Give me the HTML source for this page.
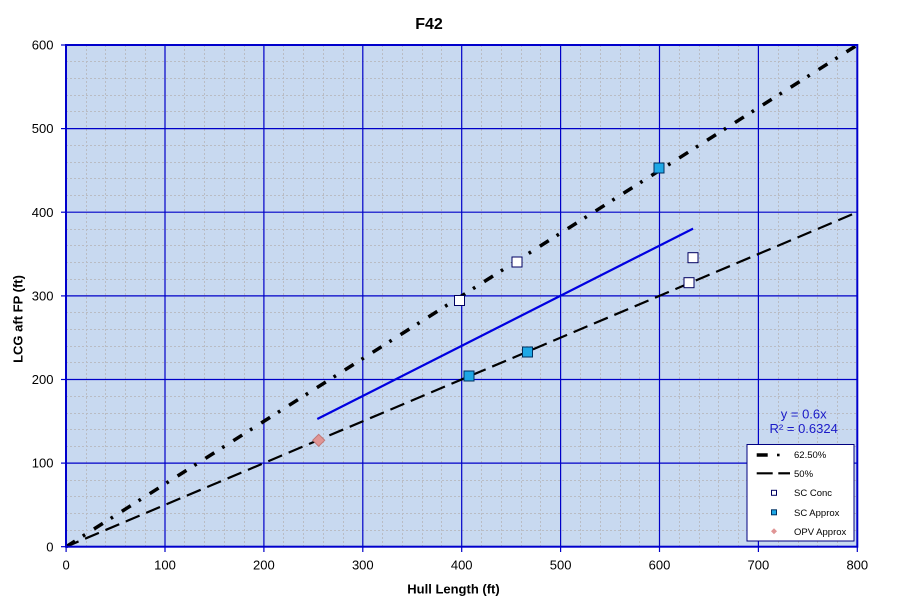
<!DOCTYPE html>
<html>
<head>
<meta charset="utf-8">
<style>
html,body{margin:0;padding:0;background:#ffffff;}
svg{display:block;}
text{font-family:"Liberation Sans",Arial,sans-serif;}
</style>
</head>
<body>
<svg width="901" height="613" viewBox="0 0 901 613" xmlns="http://www.w3.org/2000/svg">
<rect x="0" y="0" width="901" height="613" fill="#ffffff"/>
<rect x="66" y="45" width="791.3" height="501.7" fill="#C8D9F0"/>

<g stroke="#B9BCC4" stroke-width="1" stroke-dasharray="2 2" fill="none">
<line x1="86.5" y1="45" x2="86.5" y2="547"/>
<line x1="105.5" y1="45" x2="105.5" y2="547"/>
<line x1="125.5" y1="45" x2="125.5" y2="547"/>
<line x1="145.5" y1="45" x2="145.5" y2="547"/>
<line x1="184.5" y1="45" x2="184.5" y2="547"/>
<line x1="204.5" y1="45" x2="204.5" y2="547"/>
<line x1="224.5" y1="45" x2="224.5" y2="547"/>
<line x1="244.5" y1="45" x2="244.5" y2="547"/>
<line x1="283.5" y1="45" x2="283.5" y2="547"/>
<line x1="303.5" y1="45" x2="303.5" y2="547"/>
<line x1="323.5" y1="45" x2="323.5" y2="547"/>
<line x1="343.5" y1="45" x2="343.5" y2="547"/>
<line x1="382.5" y1="45" x2="382.5" y2="547"/>
<line x1="402.5" y1="45" x2="402.5" y2="547"/>
<line x1="422.5" y1="45" x2="422.5" y2="547"/>
<line x1="441.5" y1="45" x2="441.5" y2="547"/>
<line x1="481.5" y1="45" x2="481.5" y2="547"/>
<line x1="501.5" y1="45" x2="501.5" y2="547"/>
<line x1="521.5" y1="45" x2="521.5" y2="547"/>
<line x1="540.5" y1="45" x2="540.5" y2="547"/>
<line x1="580.5" y1="45" x2="580.5" y2="547"/>
<line x1="600.5" y1="45" x2="600.5" y2="547"/>
<line x1="620.5" y1="45" x2="620.5" y2="547"/>
<line x1="639.5" y1="45" x2="639.5" y2="547"/>
<line x1="679.5" y1="45" x2="679.5" y2="547"/>
<line x1="699.5" y1="45" x2="699.5" y2="547"/>
<line x1="718.5" y1="45" x2="718.5" y2="547"/>
<line x1="738.5" y1="45" x2="738.5" y2="547"/>
<line x1="778.5" y1="45" x2="778.5" y2="547"/>
<line x1="798.5" y1="45" x2="798.5" y2="547"/>
<line x1="817.5" y1="45" x2="817.5" y2="547"/>
<line x1="837.5" y1="45" x2="837.5" y2="547"/>
<line x1="66" y1="530.5" x2="857" y2="530.5"/>
<line x1="66" y1="513.5" x2="857" y2="513.5"/>
<line x1="66" y1="496.5" x2="857" y2="496.5"/>
<line x1="66" y1="480.5" x2="857" y2="480.5"/>
<line x1="66" y1="446.5" x2="857" y2="446.5"/>
<line x1="66" y1="429.5" x2="857" y2="429.5"/>
<line x1="66" y1="413.5" x2="857" y2="413.5"/>
<line x1="66" y1="396.5" x2="857" y2="396.5"/>
<line x1="66" y1="362.5" x2="857" y2="362.5"/>
<line x1="66" y1="346.5" x2="857" y2="346.5"/>
<line x1="66" y1="329.5" x2="857" y2="329.5"/>
<line x1="66" y1="312.5" x2="857" y2="312.5"/>
<line x1="66" y1="279.5" x2="857" y2="279.5"/>
<line x1="66" y1="262.5" x2="857" y2="262.5"/>
<line x1="66" y1="245.5" x2="857" y2="245.5"/>
<line x1="66" y1="229.5" x2="857" y2="229.5"/>
<line x1="66" y1="195.5" x2="857" y2="195.5"/>
<line x1="66" y1="178.5" x2="857" y2="178.5"/>
<line x1="66" y1="162.5" x2="857" y2="162.5"/>
<line x1="66" y1="145.5" x2="857" y2="145.5"/>
<line x1="66" y1="111.5" x2="857" y2="111.5"/>
<line x1="66" y1="95.5" x2="857" y2="95.5"/>
<line x1="66" y1="78.5" x2="857" y2="78.5"/>
<line x1="66" y1="61.5" x2="857" y2="61.5"/>
</g>

<g stroke="#0000C8" stroke-width="1.2" fill="none">
<line x1="165" y1="45" x2="165" y2="547"/>
<line x1="263.9" y1="45" x2="263.9" y2="547"/>
<line x1="362.8" y1="45" x2="362.8" y2="547"/>
<line x1="461.7" y1="45" x2="461.7" y2="547"/>
<line x1="560.6" y1="45" x2="560.6" y2="547"/>
<line x1="659.5" y1="45" x2="659.5" y2="547"/>
<line x1="758.4" y1="45" x2="758.4" y2="547"/>
<line x1="66" y1="463.1" x2="857" y2="463.1"/>
<line x1="66" y1="379.5" x2="857" y2="379.5"/>
<line x1="66" y1="295.9" x2="857" y2="295.9"/>
<line x1="66" y1="212.2" x2="857" y2="212.2"/>
<line x1="66" y1="128.6" x2="857" y2="128.6"/>
</g>

<g stroke="#0000C8" stroke-width="1.2">
<line x1="61" y1="546.7" x2="66" y2="546.7"/>
<line x1="61" y1="463.1" x2="66" y2="463.1"/>
<line x1="61" y1="379.5" x2="66" y2="379.5"/>
<line x1="61" y1="295.9" x2="66" y2="295.9"/>
<line x1="61" y1="212.2" x2="66" y2="212.2"/>
<line x1="61" y1="128.6" x2="66" y2="128.6"/>
<line x1="61" y1="45" x2="66" y2="45"/>
<line x1="66.1" y1="547" x2="66.1" y2="552"/>
<line x1="165" y1="547" x2="165" y2="552"/>
<line x1="263.9" y1="547" x2="263.9" y2="552"/>
<line x1="362.8" y1="547" x2="362.8" y2="552"/>
<line x1="461.7" y1="547" x2="461.7" y2="552"/>
<line x1="560.6" y1="547" x2="560.6" y2="552"/>
<line x1="659.5" y1="547" x2="659.5" y2="552"/>
<line x1="758.4" y1="547" x2="758.4" y2="552"/>
<line x1="857.3" y1="547" x2="857.3" y2="552"/>
</g>

<line x1="66.1" y1="546.7" x2="857.3" y2="212.2" stroke="#000000" stroke-width="2.2" stroke-dasharray="15 7.1" stroke-dashoffset="1.5"/>
<line x1="66.1" y1="546.7" x2="857.3" y2="45" stroke="#000000" stroke-width="3.5" stroke-dasharray="10.5 9.3 2.7 10.5"/>
<line x1="317.3" y1="419" x2="693.1" y2="228.6" stroke="#0000E0" stroke-width="2.2"/>

<g fill="#ffffff" stroke="#000060" stroke-width="1">
<rect x="454.5" y="295.5" width="10" height="10"/>
<rect x="512" y="257" width="10" height="10"/>
<rect x="688" y="252.7" width="10" height="10"/>
<rect x="684" y="277.7" width="10" height="10"/>
</g>
<g fill="#1EA8E6" stroke="#003060" stroke-width="1">
<rect x="654" y="163" width="10" height="10"/>
<rect x="464" y="371" width="10" height="10"/>
<rect x="522.5" y="347" width="10" height="10"/>
</g>
<polygon points="318.7,434.3 324.7,440.3 318.7,446.3 312.7,440.3" fill="#E09595" stroke="#C07878" stroke-width="1"/>

<rect x="66" y="45" width="791.3" height="501.7" fill="none" stroke="#0000CC" stroke-width="2"/>

<text x="803.7" y="418.5" font-size="13" fill="#1A1AC8" text-anchor="middle">y = 0.6x</text>
<text x="803.7" y="433" font-size="13" fill="#1A1AC8" text-anchor="middle">R² = 0.6324</text>

<rect x="747" y="444.5" width="107" height="96.5" fill="#ffffff" stroke="#000080" stroke-width="1"/>
<line x1="756.7" y1="455" x2="767.7" y2="455" stroke="#000" stroke-width="3.5"/>
<rect x="777" y="453.7" width="2.6" height="2.6" fill="#000"/>
<line x1="756.7" y1="473.3" x2="772.7" y2="473.3" stroke="#000" stroke-width="2.2"/>
<line x1="778.3" y1="473.3" x2="790" y2="473.3" stroke="#000" stroke-width="2.2"/>
<rect x="771.5" y="490.3" width="5" height="5" fill="#ffffff" stroke="#000060" stroke-width="1"/>
<rect x="771.5" y="509.8" width="5" height="5" fill="#1EA8E6" stroke="#003060" stroke-width="1"/>
<polygon points="774,528.3 777,531.3 774,534.3 771,531.3" fill="#E09595"/>
<g font-size="9.5" fill="#000">
<text x="794" y="458">62.50%</text>
<text x="794" y="476.8">50%</text>
<text x="794" y="496.2">SC Conc</text>
<text x="794" y="515.8">SC Approx</text>
<text x="794" y="535">OPV Approx</text>
</g>

<g font-size="13" fill="#000" text-anchor="end">
<text x="53.5" y="551.3">0</text>
<text x="53.5" y="467.7">100</text>
<text x="53.5" y="384.1">200</text>
<text x="53.5" y="300.5">300</text>
<text x="53.5" y="216.8">400</text>
<text x="53.5" y="133.2">500</text>
<text x="53.5" y="49.6">600</text>
</g>
<g font-size="13" fill="#000" text-anchor="middle">
<text x="66.1" y="569.3">0</text>
<text x="165" y="569.3">100</text>
<text x="263.9" y="569.3">200</text>
<text x="362.8" y="569.3">300</text>
<text x="461.7" y="569.3">400</text>
<text x="560.6" y="569.3">500</text>
<text x="659.5" y="569.3">600</text>
<text x="758.4" y="569.3">700</text>
<text x="857.3" y="569.3">800</text>
</g>

<text x="429" y="29" font-size="16" font-weight="bold" fill="#000" text-anchor="middle">F42</text>
<text x="453.5" y="593.5" font-size="13" font-weight="bold" fill="#000" text-anchor="middle">Hull Length (ft)</text>
<text transform="translate(22.5,319) rotate(-90)" x="0" y="0" font-size="13" font-weight="bold" fill="#000" text-anchor="middle">LCG aft FP (ft)</text>
</svg>
</body>
</html>
